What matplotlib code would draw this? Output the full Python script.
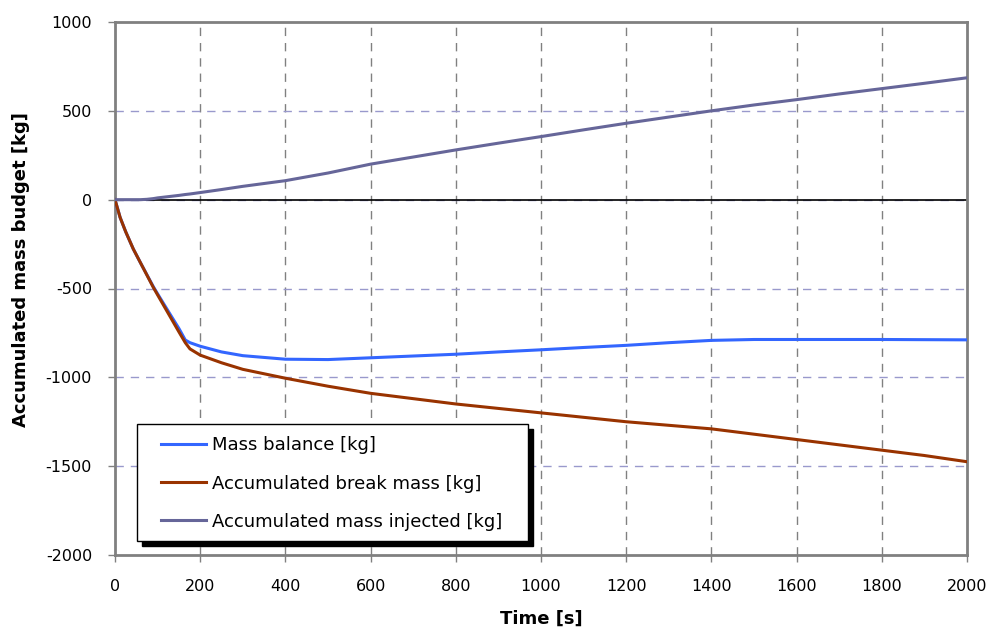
import matplotlib
matplotlib.use("Agg")
import matplotlib.pyplot as plt
from matplotlib.patches import Rectangle
from matplotlib.lines import Line2D

plt.rcParams['font.family'] = ['DejaVu Sans']
plt.rcParams['axes.unicode_minus'] = False

time_s = [0, 12, 25, 43, 60, 75, 90, 100, 125, 150, 165, 176, 200, 250, 300, 400, 500, 600, 700,
          800, 900, 1000, 1100, 1200, 1300, 1400, 1500, 1600, 1700, 1800, 1900, 2000]
mass_balance = [0, -100, -180, -278, -356, -423, -490, -530, -628, -725, -790, -805, -825, -857,
                -878, -898, -900, -890, -880, -870, -857, -845, -832, -820, -805, -792, -787,
                -787, -787, -787, -788, -789]
break_mass = [0, -100, -180, -278, -356, -425, -494, -536, -640, -744, -805, -840, -875, -918,
              -955, -1005, -1050, -1090, -1120, -1150, -1175, -1200, -1225, -1250, -1270, -1290,
              -1320, -1350, -1380, -1410, -1440, -1475]
mass_injected = [0, 0, 0, 0, 0, 2, 6, 10, 17, 24, 29, 32, 40, 57, 75, 107, 150, 200, 240, 280,
                 318, 355, 393, 430, 465, 500, 533, 563, 595, 625, 655, 686]

labels = ["Mass balance [kg]", "Accumulated break mass [kg]", "Accumulated mass injected [kg]"]
colors = ["#3366FF", "#993300", "#666699"]
xticks = list(range(0, 2001, 200))
yticks = list(range(-2000, 1001, 500))

fig = plt.figure(figsize=(9.92, 6.3), dpi=100)
ax = fig.add_axes([115/992, 75/630, 852/992, 533/630])

ax.set_xlim(0, 2000)
ax.set_ylim(-2000, 1000)
ax.set_xticks(xticks)
ax.set_yticks(yticks)

for x in xticks[1:-1]:
    ax.axvline(x, color="#808080", lw=1, ls=(0, (6, 5)), zorder=1)
for y in yticks[1:-1]:
    ax.axhline(y, color="#9999CC", lw=1, ls=(0, (6, 5)), zorder=1)
ax.axhline(0, color="black", lw=1.2, zorder=2)

series = [mass_balance, break_mass, mass_injected]
for s, c, l in zip(series, colors, labels):
    ax.plot(time_s, s, color=c, lw=2.2, label=l, zorder=3, solid_joinstyle='round')

for sp in ax.spines.values():
    sp.set_color("#808080")
    sp.set_linewidth(2)
ax.tick_params(axis='both', direction='out', length=5, width=1, color="#808080",
               labelsize=11.5)
ax.tick_params(axis='x', pad=12.5)
ax.tick_params(axis='y', pad=11.5)

ax.set_xlabel("Time [s]", fontsize=13, fontweight='bold')
ax.set_ylabel("Accumulated mass budget [kg]", fontsize=13, fontweight='bold')
ax.xaxis.set_label_coords(0.5, -0.103)
ax.yaxis.set_label_coords(-0.100, 0.535)

# legend box with black shadow
x0, y0, w, h = 0.0258, 0.0263, 0.4590, 0.2195
sx, sy = 5/852, 5/533
ax.add_patch(Rectangle((x0 + sx, y0 - sy), w, h, transform=ax.transAxes,
                       facecolor="black", edgecolor="black", zorder=5, clip_on=False))
ax.add_patch(Rectangle((x0, y0), w, h, transform=ax.transAxes,
                       facecolor="white", edgecolor="black", lw=1, zorder=6, clip_on=False))
handles = [Line2D([], [], color=c, lw=2.2) for c in colors]
leg = ax.legend(handles, labels, loc='upper left', bbox_to_anchor=(0.054, 0.2226),
                frameon=False, fontsize=13, handlelength=2.5, handletextpad=0.3,
                labelspacing=1.12, borderpad=0, borderaxespad=0)
leg.set_zorder(7)

fig.savefig("out.png", dpi=100)
